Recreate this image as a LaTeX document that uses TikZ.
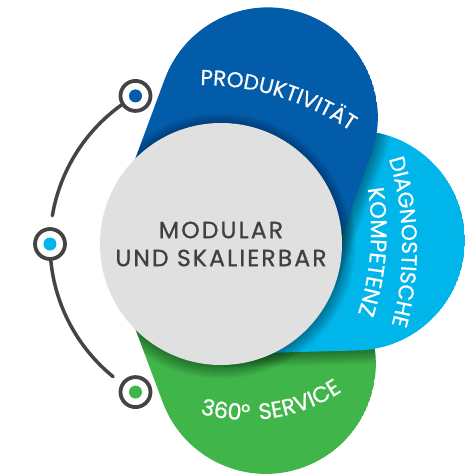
\documentclass[tikz,border=0pt]{standalone}
\usepackage{fontspec}
\usepackage{xcolor}
\usepackage{tikz}
\usetikzlibrary{decorations.text}
\usetikzlibrary{positioning}

\newfontfamily\corefamily[LetterSpace=9,FakeBold=0.8]{Poppins}
\newfontfamily\petalfamily[LetterSpace=8,FakeBold=0.6]{Poppins}
\newfontfamily\widefamily[LetterSpace=14,FakeBold=0.6]{Poppins}
\newcommand\petalfont{\petalfamily\fontsize{21.5}{21.5}\selectfont}
\newcommand\widefont{\widefamily\fontsize{22.5}{22.5}\selectfont}
\newcommand\corefont{\corefamily\fontsize{23.5}{28}\selectfont}

\definecolor{prodblue}{RGB}{3,92,170}
\definecolor{diagcyan}{RGB}{0,181,234}
\definecolor{servgreen}{RGB}{64,182,74}
\definecolor{coregray}{RGB}{224,224,224}
\definecolor{inkgray}{RGB}{64,64,64}
\definecolor{linkgray}{RGB}{68,68,68}

% petal: rotate, distance of the round end, radius
\tikzset{petal/.style n args={3}{insert path={[rotate=#1] (0,{-(#3)}) -- (#2,{-(#3)})
  arc[start angle=-90,end angle=90,radius=#3] -- (0,{#3}) -- cycle}}}

\begin{document}
\begin{tikzpicture}[x=1pt, y=1pt]
  \tikzstyle{ring}=[circle,draw=linkgray,line width=3.8pt,fill=white,minimum size=30pt,inner sep=0pt]
  \tikzstyle{link}=[draw=linkgray,line width=3.5pt,line cap=round]
  \tikzstyle{shade}=[black,opacity=0.028]
  \useasboundingbox (-221,-231) rectangle (254,244);

  % green petal
  \begin{scope}
    \clip[petal={-69.5}{128}{110}];
    \fill[servgreen,petal={-69.5}{128}{110}];
    \foreach \k in {1,...,14} {
      \fill[shade] (0,0) circle[radius=121+\k];
      \fill[shade,petal={1.5}{134}{110+\k}];
    }
  \end{scope}
  % cyan petal
  \begin{scope}
    \clip[petal={1.5}{134}{110}];
    \fill[diagcyan,petal={1.5}{134}{110}];
    \foreach \k in {1,...,14} {
      \fill[shade] (0,0) circle[radius=121+\k];
      \fill[shade,petal={69.7}{135}{110+\k}];
    }
  \end{scope}
  % blue petal
  \begin{scope}
    \clip[petal={69.7}{135}{110}];
    \fill[prodblue,petal={69.7}{135}{110}];
    \foreach \k in {1,...,10} {
      \fill[shade] (0,0) circle[radius=121+\k];
    }
  \end{scope}

  \node[circle,fill=coregray,minimum size=242pt,inner sep=0pt,align=center,
        text=inkgray,font=\corefont] (core) at (0,0) {MODULAR\\UND SKALIERBAR};

  \path[shift={(-21,-111)},decorate,decoration={text along path,text align=center,
        text color=white,text={|\petalfont|PRODUKTIVITÄT}}]
    (105:270) arc[start angle=105,end angle=41,radius=270];
  \path[shift={(-119,-3)},decorate,decoration={text along path,text align=center,
        text color=white,text={|\petalfont|DIAGNOSTISCHE}}]
    (21:300) arc[start angle=21,end angle=-19,radius=300];
  \path[shift={(-119,13)},decorate,decoration={text along path,text align=center,
        text color=white,text={|\widefont|KOMPETENZ}}]
    (18:269) arc[start angle=18,end angle=-26.8,radius=269];
  \path[shift={(25,-1)},decorate,decoration={text along path,text align=center,
        text color=white,text={|\widefont|360° SERVICE}}]
    (247:175) arc[start angle=247,end angle=311,radius=175];

  \coordinate (arcA) at (125.7:171);
  \coordinate (arcB) at (185.7:171);
  \draw[link] (arcA) arc[start angle=125.7,end angle=170.5,radius=171];
  \draw[link] (arcB) arc[start angle=185.7,end angle=230.9,radius=171];

  \node[ring] (topring) at (120:171) {};
  \node[ring] (midring) at (180:171) {};
  \node[ring] (botring) at (240:171) {};
  \fill[prodblue] (topring.center) circle[radius=6.5];
  \fill[diagcyan] (midring.center) circle[radius=6.5];
  \fill[servgreen] (botring.center) circle[radius=6.5];
\end{tikzpicture}
\end{document}
